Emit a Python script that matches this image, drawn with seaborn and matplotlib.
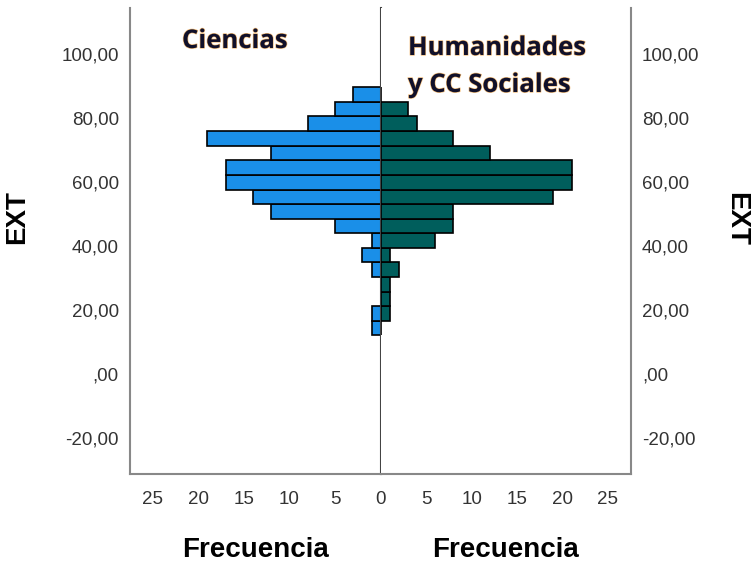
import numpy as np
import pandas as pd
import matplotlib
matplotlib.use("Agg")
import matplotlib.pyplot as plt
import matplotlib.patheffects as pe
import seaborn as sns

# bin edges of EXT, 17 bins
bin_edges = [12.25, 16.8, 21.4, 25.9, 30.5, 35.1, 39.5, 44.1, 48.7, 53.2,
             57.75, 62.3, 66.9, 71.5, 76.1, 80.7, 85.25, 89.75]
# counts from the lowest bin to the highest
ciencias = [1, 1, 0, 0, 1, 2, 1, 5, 12, 14, 17, 17, 12, 19, 8, 5, 3]
humanidades = [0, 1, 1, 1, 2, 1, 6, 8, 8, 19, 21, 21, 12, 8, 4, 3, 0]

y_ticks = [-20, 0, 20, 40, 60, 80, 100]
y_labels = ['-20,00', ',00', '20,00', '40,00', '60,00', '80,00', '100,00']
x_ticks_left = [25, 20, 15, 10, 5, 0]
x_ticks_right = [5, 10, 15, 20, 25]

centers = [(a + b) / 2 for a, b in zip(bin_edges[:-1], bin_edges[1:])]
df = pd.DataFrame({'EXT': centers, 'Ciencias': ciencias,
                   'Humanidades': humanidades})

sns.set_style('white')
plt.rcParams['font.family'] = ['Liberation Sans', 'DejaVu Sans']

W, H = 753, 564
fig = plt.figure(figsize=(W / 100, H / 100), dpi=100)
bottom = (H - 474.3) / H
height = (474.3 - 8.3) / H
ax1 = fig.add_axes([130 / W, bottom, (380.7 - 130) / W, height])
ax2 = fig.add_axes([380.7 / W, bottom, (630.7 - 380.7) / W, height], sharey=ax1)

sns.histplot(data=df, y='EXT', weights='Ciencias', bins=bin_edges, ax=ax1,
             color='#1a8fe8', edgecolor='black', linewidth=1.2, alpha=1)
sns.histplot(data=df, y='EXT', weights='Humanidades', bins=bin_edges, ax=ax2,
             color='#005e5c', edgecolor='black', linewidth=1.2, alpha=1)

xmax = 27.5
ax1.set_xlim(xmax, 0)
ax2.set_xlim(0, xmax)
ax1.set_ylim(-31.2, 114.4)

tick_font = dict(fontsize=13.5, color='#333333')
ax1.set_yticks(y_ticks)
ax1.set_yticklabels(y_labels, **tick_font)
ax1.set_xticks(x_ticks_left)
ax1.set_xticklabels([str(v) for v in x_ticks_left], **tick_font)
ax2.set_xticks(x_ticks_right)
ax2.set_xticklabels([str(v) for v in x_ticks_right], **tick_font)
ax2.yaxis.tick_right()
ax2.yaxis.set_label_position('right')
ax2.tick_params(axis='y', labelright=True, labelleft=False)
for lab in ax2.get_yticklabels():
    lab.set_fontsize(13.5)
    lab.set_color('#333333')

for ax in (ax1, ax2):
    ax.tick_params(length=0)
    ax.tick_params(axis='x', pad=12)
    ax.tick_params(axis='y', pad=8)
    ax.spines['top'].set_visible(False)
    for s in ax.spines.values():
        s.set_color('#888888')
        s.set_linewidth(1.5)
ax1.spines['right'].set_color('#444444')
ax1.spines['right'].set_linewidth(1.5)
ax2.spines['left'].set_visible(False)

lab_font = dict(fontsize=20, fontweight='bold', color='black')
ax1.set_xlabel('Frecuencia', labelpad=21, **lab_font)
ax2.set_xlabel('Frecuencia', labelpad=21, **lab_font)
ax1.set_ylabel('EXT', rotation=90, va='bottom', ha='center', **lab_font)
ax2.set_ylabel('EXT', rotation=270, va='bottom', ha='center', **lab_font)
ax1.yaxis.set_label_coords((30 - 130) / 250.7, (474.3 - 217) / 466)
ax2.yaxis.set_label_coords((723 - 380.7) / 250, (474.3 - 219) / 466)

title_font = dict(fontsize=18.5, fontweight='bold', color='#10102a',
                  family=['Open Sans', 'DejaVu Sans'],
                  path_effects=[pe.withStroke(linewidth=1.0, foreground='#f0b060',
                                              alpha=0.8)])
fig.text(182 / W, 1 - 48 / H, 'Ciencias', ha='left', va='baseline', **title_font)
fig.text(408 / W, 1 - 55 / H, 'Humanidades', ha='left', va='baseline', **title_font)
fig.text(408 / W, 1 - 92 / H, 'y CC Sociales', ha='left', va='baseline', **title_font)

fig.savefig('out.png', dpi=100)
